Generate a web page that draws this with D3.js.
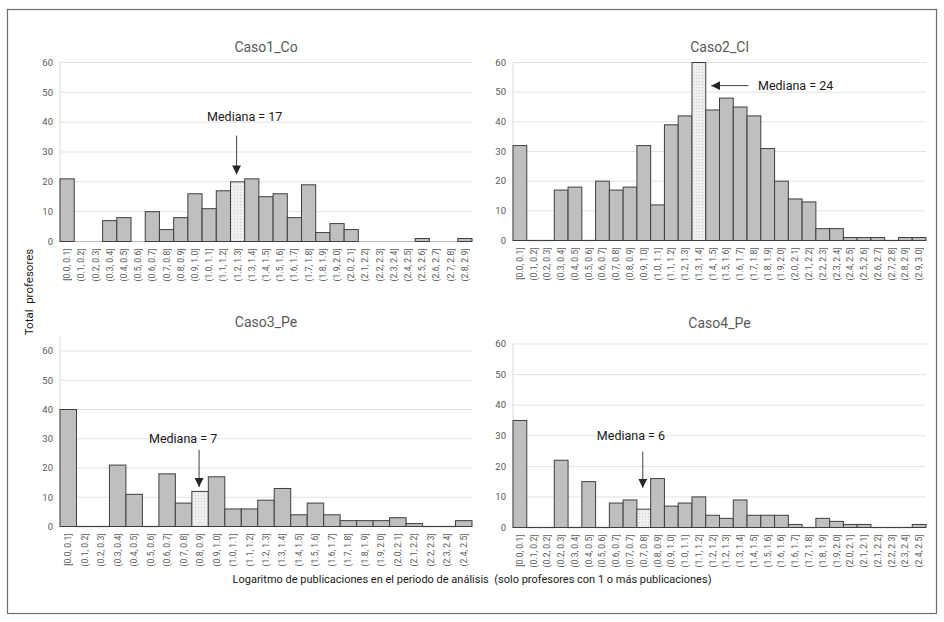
<!DOCTYPE html>
<html>
<head>
<meta charset="utf-8">
<script src="https://cdn.jsdelivr.net/npm/d3@7"></script>
<style>
  body { margin: 0; background: #fff; }
  svg { font-family: Roboto, "Noto Sans", sans-serif; }
</style>
</head>
<body>
<div id="chart"></div>
<script>
// Data
const labels1 = ["[0.0, 0.1]","(0.1, 0.2]","(0.2, 0.3]","(0.3, 0.4]","(0.4, 0.5]","(0.5, 0.6]","(0.6, 0.7]","(0.7, 0.8]","(0.8, 0.9]","(0.9, 1.0]","(1.0, 1.1]","(1.1, 1.2]","(1.2, 1.3]","(1.3, 1.4]","(1.4, 1.5]","(1.5, 1.6]","(1.6, 1.7]","(1.7, 1.8]","(1.8, 1.9]","(1.9, 2.0]","(2.0, 2.1]","(2.1, 2.2]","(2.2, 2.3]","(2.3, 2.4]","(2.4, 2.5]","(2.5, 2.6]","(2.6, 2.7]","(2.7, 2.8]","(2.8, 2.9]"];
const values1 = [21,0,0,7,8,0,10,4,8,16,11,17,20,21,15,16,8,19,3,6,4,0,0,0,0,1,0,0,1];

const labels2 = ["[0.0, 0.1]","(0.1, 0.2]","(0.2, 0.3]","(0.3, 0.4]","(0.4, 0.5]","(0.5, 0.6]","(0.6, 0.7]","(0.7, 0.8]","(0.8, 0.9]","(0.9, 1.0]","(1.0, 1.1]","(1.1, 1.2]","(1.2, 1.3]","(1.3, 1.4]","(1.4, 1.5]","(1.5, 1.6]","(1.6, 1.7]","(1.7, 1.8]","(1.8, 1.9]","(1.9, 2.0]","(2.0, 2.1]","(2.1, 2.2]","(2.2, 2.3]","(2.3, 2.4]","(2.4, 2.5]","(2.5, 2.6]","(2.6, 2.7]","(2.7, 2.8]","(2.8, 2.9]","(2.9, 3.0]"];
const values2 = [32,0,0,17,18,0,20,17,18,32,12,39,42,60,44,48,45,42,31,20,14,13,4,4,1,1,1,0,1,1];

const labels3 = ["[0.0, 0.1]","(0.1, 0.2]","(0.2, 0.3]","(0.3, 0.4]","(0.4, 0.5]","(0.5, 0.6]","(0.6, 0.7]","(0.7, 0.8]","(0.8, 0.9]","(0.9, 1.0]","(1.0, 1.1]","(1.1, 1.2]","(1.2, 1.3]","(1.3, 1.4]","(1.4, 1.5]","(1.5, 1.6]","(1.6, 1.7]","(1.7, 1.8]","(1.8, 1.9]","(1.9, 2.0]","(2.0, 2.1]","(2.1, 2.2]","(2.2, 2.3]","(2.3, 2.4]","(2.4, 2.5]"];
const values3 = [40,0,0,21,11,0,18,8,12,17,6,6,9,13,4,8,4,2,2,2,3,1,0,0,2];

const labels4 = ["[0.0, 0.1]","(0.1, 0.2]","(0.2, 0.2]","(0.2, 0.3]","(0.3, 0.4]","(0.4, 0.5]","(0.5, 0.6]","(0.6, 0.7]","(0.7, 0.7]","(0.7, 0.8]","(0.8, 0.9]","(0.9, 1.0]","(1.0, 1.1]","(1.1, 1.2]","(1.2, 1.2]","(1.2, 1.3]","(1.3, 1.4]","(1.4, 1.5]","(1.5, 1.6]","(1.6, 1.6]","(1.6, 1.7]","(1.7, 1.8]","(1.8, 1.9]","(1.9, 2.0]","(2.0, 2.1]","(2.1, 2.1]","(2.1, 2.2]","(2.2, 2.3]","(2.3, 2.4]","(2.4, 2.5]"];
const values4 = [35,0,0,22,0,15,0,8,9,6,16,7,8,10,4,3,9,4,4,4,1,0,3,2,1,1,0,0,0,1];

const yTicks = [0,10,20,30,40,50,60];

// Panel layout (median index, annotation placement in data units)
const panels = [
  {title: "Caso1_Co", labels: labels1, values: values1, median: 12, ymax: 60, zeroLine: false,
   x0: 60, x1: 472, y0: 241.5, yTop: 62.5, titleY: 47,
   note: "Mediana = 17", textX: 13, textY: 42, dir: "down", a0: 35.5, a1: 22.5},
  {title: "Caso2_Cl", labels: labels2, values: values2, median: 13, ymax: 60, zeroLine: true,
   x0: 513, x1: 926, y0: 240.5, yTop: 62.5, titleY: 47,
   note: "Mediana = 24", textX: 17.8, textY: 52.2, dir: "left", a0: 17.1, a1: 14.4},
  {title: "Caso3_Pe", labels: labels3, values: values3, median: 8, ymax: 65, zeroLine: true,
   x0: 60, x1: 472, y0: 526.5, yTop: 351, titleY: 322,
   note: "Mediana = 7", textX: 7.47, textY: 30.2, dir: "down", a0: 26.2, a1: 13.5},
  {title: "Caso4_Pe", labels: labels4, values: values4, median: 9, ymax: 60, zeroLine: true,
   x0: 513, x1: 926, y0: 527.5, yTop: 344, titleY: 323,
   note: "Mediana = 6", textX: 8.57, textY: 30.1, dir: "down", a0: 24.8, a1: 13}
];

const W = 944, H = 622;
const svg = d3.select("#chart").append("svg")
  .attr("width", W).attr("height", H);

// dotted pattern for the median bar
const defs = svg.append("defs");
const pat = defs.append("pattern")
  .attr("id", "dots").attr("patternUnits", "userSpaceOnUse")
  .attr("width", 3).attr("height", 3);
pat.append("rect").attr("width", 3).attr("height", 3).attr("fill", "#efefef");
pat.append("rect").attr("width", 1).attr("height", 1).attr("fill", "#cfcfcf");

defs.append("marker")
  .attr("id", "head").attr("viewBox", "0 0 10 10")
  .attr("refX", 10).attr("refY", 5)
  .attr("markerWidth", 9).attr("markerHeight", 9)
  .attr("markerUnits", "userSpaceOnUse")
  .attr("orient", "auto")
  .append("path").attr("d", "M0,0 L10,5 L0,10 z").attr("fill", "#262626");

// outer frame
svg.append("rect")
  .attr("x", 7.5).attr("y", 9.5).attr("width", 929).attr("height", 604)
  .attr("fill", "none").attr("stroke", "#6e6e6e").attr("stroke-width", 1.2);

panels.forEach(function(p) {
  const g = svg.append("g");

  const x = d3.scaleBand()
    .domain(d3.range(p.labels.length))
    .range([p.x0, p.x1])
    .padding(0);

  // y scale: 60 lands on the top gridline
  const y = d3.scaleLinear()
    .domain([0, 60])
    .range([p.y0, p.yTop]);

  const bw = x.bandwidth();
  const xu = v => p.x0 + v * bw; // fractional category position

  // gridlines
  g.append("g")
    .selectAll("line")
    .data(yTicks)
    .join("line")
      .attr("x1", p.x0).attr("x2", p.x1)
      .attr("y1", d => y(d)).attr("y2", d => y(d))
      .attr("stroke", d => d === 0 ? "#bfbfbf" : "#e3e3e3")
      .attr("stroke-width", 1);

  // left axis line
  g.append("line")
    .attr("x1", p.x0).attr("x2", p.x0)
    .attr("y1", y(p.ymax)).attr("y2", p.y0)
    .attr("stroke", "#d9d9d9");

  // y tick labels
  g.append("g")
    .selectAll("text")
    .data(yTicks)
    .join("text")
      .attr("x", p.x0 - 7)
      .attr("y", d => y(d))
      .attr("dy", "0.35em")
      .attr("text-anchor", "end")
      .style("font-size", "9.5px")
      .style("fill", "#595959")
      .text(d => d);

  // bars
  g.append("g")
    .selectAll("rect")
    .data(p.values.map((v, i) => ({v, i})).filter(d => d.v > 0))
    .join("rect")
      .attr("x", d => x(d.i))
      .attr("y", d => y(d.v))
      .attr("width", bw)
      .attr("height", d => p.y0 - y(d.v))
      .attr("fill", d => d.i === p.median ? "url(#dots)" : "#bfbfbf")
      .attr("stroke", "#3f3f3f")
      .attr("stroke-width", 1);

  // empty bins drawn as a flat outline on the baseline
  if (p.zeroLine) {
    g.append("g")
      .selectAll("line")
      .data(p.values.map((v, i) => ({v, i})).filter(d => d.v === 0))
      .join("line")
        .attr("x1", d => x(d.i)).attr("x2", d => x(d.i) + bw)
        .attr("y1", d => y(d.v)).attr("y2", d => y(d.v))
        .attr("stroke", "#3f3f3f")
        .attr("stroke-width", 1.2);
  }

  // category labels
  g.append("g")
    .selectAll("text")
    .data(p.labels)
    .join("text")
      .attr("transform", (d, i) => `translate(${x(i) + bw / 2 + 3},${p.y0 + 7}) rotate(-90)`)
      .attr("text-anchor", "end")
      .style("font-size", "8.6px")
      .style("fill", "#595959")
      .text(d => d);

  // title
  g.append("text")
    .attr("x", (p.x0 + p.x1) / 2)
    .attr("y", p.titleY)
    .attr("dy", "0.35em")
    .attr("text-anchor", "middle")
    .style("font-size", "14px")
    .style("fill", "#595959")
    .text(p.title);

  // median annotation
  if (p.dir === "down") {
    const cx = x(p.median) + bw / 2 - 1;
    g.append("line")
      .attr("x1", cx).attr("x2", cx)
      .attr("y1", y(p.a0)).attr("y2", y(p.a1))
      .attr("stroke", "#404040").attr("stroke-width", 1)
      .attr("marker-end", "url(#head)");
    g.append("text")
      .attr("x", xu(p.textX)).attr("y", y(p.textY))
      .attr("dy", "0.35em")
      .attr("text-anchor", "middle")
      .style("font-size", "12.5px")
      .style("fill", "#1a1a1a")
      .text(p.note);
  } else {
    g.append("line")
      .attr("x1", xu(p.a0)).attr("x2", xu(p.a1))
      .attr("y1", y(p.textY)).attr("y2", y(p.textY))
      .attr("stroke", "#404040").attr("stroke-width", 1)
      .attr("marker-end", "url(#head)");
    g.append("text")
      .attr("x", xu(p.textX)).attr("y", y(p.textY))
      .attr("dy", "0.35em")
      .attr("text-anchor", "start")
      .style("font-size", "12.5px")
      .style("fill", "#1a1a1a")
      .text(p.note);
  }
});

// shared axis titles
svg.append("text")
  .attr("transform", "translate(29,292) rotate(-90)")
  .attr("text-anchor", "middle")
  .attr("dy", "0.35em")
  .style("font-size", "11.5px")
  .style("fill", "#1a1a1a")
  .style("white-space", "pre")
  .text("Total  profesores");

svg.append("text")
  .attr("x", 472).attr("y", 579)
  .attr("dy", "0.35em")
  .attr("text-anchor", "middle")
  .style("font-size", "11px")
  .style("fill", "#1a1a1a")
  .style("white-space", "pre")
  .text("Logaritmo de publicaciones en el periodo de análisis  (solo profesores con 1 o más publicaciones)");
</script>
</body>
</html>
